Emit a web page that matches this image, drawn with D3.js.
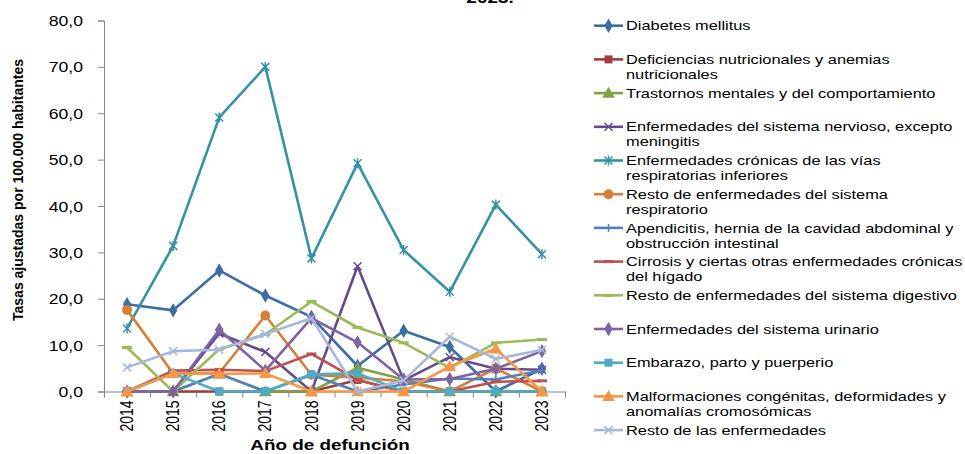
<!DOCTYPE html>
<html>
<head>
<meta charset="utf-8">
<script src="https://cdn.jsdelivr.net/npm/d3@7"></script>
<style>
  body { margin: 0; background: #fff; }
  svg { display: block; font-family: "Liberation Sans", Arial, sans-serif; }
</style>
</head>
<body>
<script>

let width = 965;
let height = 454;

// horizontal stretch of the text in the source picture
let SX = 1.26;

let years = ["2014", "2015", "2016", "2017", "2018", "2019", "2020", "2021", "2022", "2023"];
let yTicks = [0, 10, 20, 30, 40, 50, 60, 70, 80];

let diabetes       = [18.8, 17.5, 26.1, 20.7, 16.1, 5.5, 13.1, 9.6, 0.0, 4.9];
let deficiencias   = [0.0, 0.0, 0.0, 0.0, 0.0, 2.5, 0.0, 0.0, 0.0, 0.0];
let trastornos     = [0.0, 0.0, 3.8, 0.0, 0.0, 5.1, 2.6, 0.0, 0.0, 0.0];
let nervioso       = [0.0, 0.0, 12.5, 8.5, 0.0, 27.0, 2.4, 7.4, 4.9, 4.7];
let cronicas       = [13.6, 31.4, 59.1, 70.0, 28.7, 49.2, 30.5, 21.5, 40.3, 29.6];
let respiratorio   = [17.6, 3.9, 4.0, 16.4, 3.6, 3.0, 2.2, 0.0, 5.0, 0.0];
let apendicitis    = [0.0, 0.0, 3.8, 0.0, 3.6, 0.0, 1.5, 2.8, 2.6, 4.6];
let cirrosis       = [0.0, 4.5, 4.7, 4.4, 8.1, 2.5, 0.0, 0.0, 2.1, 2.3];
let digestivo      = [9.5, 0.0, 9.1, 12.3, 19.4, 13.8, 10.5, 5.1, 10.5, 11.2];
let urinario       = [0.0, 0.0, 13.3, 4.5, 15.8, 10.6, 2.6, 2.7, 4.9, 8.7];
let embarazo       = [0.0, 3.9, 0.0, 0.0, 3.7, 3.9, 0.0, 0.0, 0.0, 0.0];
let malformaciones = [0.0, 3.9, 3.8, 3.9, 0.0, 0.0, 0.0, 5.4, 9.2, 0.0];
let resto          = [5.2, 8.7, 9.0, 12.4, 15.8, 0.0, 2.4, 11.8, 7.0, 9.0];

let seriesNames = [
    ["Diabetes mellitus"],
    ["Deficiencias nutricionales y anemias", "nutricionales"],
    ["Trastornos mentales y del comportamiento"],
    ["Enfermedades del sistema nervioso, excepto", "meningitis"],
    ["Enfermedades crónicas de las vías", "respiratorias inferiores"],
    ["Resto de enfermedades del sistema", "respiratorio"],
    ["Apendicitis, hernia de la cavidad abdominal y", "obstrucción intestinal"],
    ["Cirrosis y ciertas otras enfermedades crónicas", "del hígado"],
    ["Resto de enfermedades del sistema digestivo"],
    ["Enfermedades del sistema urinario"],
    ["Embarazo, parto y puerperio"],
    ["Malformaciones congénitas, deformidades y", "anomalías cromosómicas"],
    ["Resto de las enfermedades"]
];
let seriesValues = [diabetes, deficiencias, trastornos, nervioso, cronicas, respiratorio,
    apendicitis, cirrosis, digestivo, urinario, embarazo, malformaciones, resto];
let seriesColors = ["#3c6da6", "#a13d3a", "#84a047", "#654a8c", "#3591a8", "#d67f38",
    "#4f81bd", "#c0504d", "#9bbb59", "#8064a2", "#4bacc6", "#f79646", "#a6b8dc"];
let seriesMarkers = ["diamond", "square", "triangle", "x", "star", "circle",
    "plus", "dash", "dash", "diamond", "square", "triangle", "x"];

let plot = { left: 104, right: 565, top: 20.5, bottom: 391.5 };

let svg = d3.select("body").append("svg")
    .attr("width", width)
    .attr("height", height);

let x = d3.scaleBand()
    .domain(years)
    .range([plot.left, plot.right]);

let xEdge = d3.scaleLinear()
    .domain([0, years.length])
    .range([plot.left, plot.right]);

let y = d3.scaleLinear()
    .domain([0, 80])
    .range([plot.bottom, plot.top]);

// clipped title line at the very top
svg.append("text")
    .attr("transform", "translate(490,3) scale(" + SX + ",1)")
    .attr("text-anchor", "middle")
    .attr("font-size", 15)
    .attr("font-weight", "bold")
    .text("2023.");

// Y axis
let yAxis = svg.append("g")
    .attr("transform", "translate(" + plot.left + ",0)")
    .call(d3.axisLeft(y)
        .tickValues(yTicks)
        .tickSize(6)
        .tickFormat(d => d3.format(".1f")(d).replace(".", ",")));
yAxis.select(".domain").attr("stroke", "#868686");
yAxis.selectAll(".tick line").attr("stroke", "#868686");
yAxis.selectAll(".tick text")
    .attr("x", null)
    .attr("dy", "0.36em")
    .attr("transform", "translate(-21,0) scale(" + SX + ",1)")
    .attr("font-size", 14)
    .attr("font-family", "Liberation Sans, Arial, sans-serif")
    .attr("fill", "#000");

// X axis: ticks between categories
let xEdgeAxis = svg.append("g")
    .attr("transform", "translate(0," + plot.bottom + ")")
    .call(d3.axisBottom(xEdge)
        .ticks(years.length)
        .tickSize(6)
        .tickSizeOuter(6)
        .tickFormat(""));
xEdgeAxis.select(".domain").attr("stroke", "#868686");
xEdgeAxis.selectAll(".tick line").attr("stroke", "#868686");

let xAxis = svg.append("g")
    .attr("transform", "translate(0," + plot.bottom + ")")
    .call(d3.axisBottom(x).tickSize(0));
xAxis.select(".domain").remove();
xAxis.selectAll(".tick text")
    .attr("y", null)
    .attr("dy", null)
    .attr("text-anchor", "end")
    .attr("dominant-baseline", "central")
    .attr("transform", "translate(0,9) scale(" + SX + ",1) rotate(-90)")
    .attr("font-size", 14)
    .attr("font-family", "Liberation Sans, Arial, sans-serif")
    .attr("fill", "#000");

// axis titles
svg.append("text")
    .attr("transform", "translate(23,190) rotate(-90)")
    .attr("text-anchor", "middle")
    .attr("font-size", 14)
    .attr("font-weight", "bold")
    .text("Tasas ajustadas por 100.000 habitantes");

svg.append("text")
    .attr("transform", "translate(330,450) scale(" + SX + ",1)")
    .attr("text-anchor", "middle")
    .attr("font-size", 15)
    .attr("font-weight", "bold")
    .text("Año de defunción");

function drawMarker(g, type, cx, cy, color) {
    if (type === "diamond") {
        g.append("path").attr("d", d3.symbol(d3.symbolDiamond, 60)())
            .attr("transform", "translate(" + cx + "," + cy + ")").attr("fill", color);
    } else if (type === "square") {
        g.append("path").attr("d", d3.symbol(d3.symbolSquare, 64)())
            .attr("transform", "translate(" + cx + "," + cy + ")").attr("fill", color);
    } else if (type === "triangle") {
        g.append("path").attr("d", d3.symbol(d3.symbolTriangle, 70)())
            .attr("transform", "translate(" + cx + "," + (cy + 1) + ")").attr("fill", color);
    } else if (type === "circle") {
        g.append("circle").attr("cx", cx).attr("cy", cy).attr("r", 5).attr("fill", color);
    } else {
        let r = 4;
        let segs = [];
        if (type === "x" || type === "star") segs.push([-r, -r, r, r], [-r, r, r, -r]);
        if (type === "star") segs.push([0, -r - 1, 0, r + 1]);
        if (type === "plus") segs.push([-r, 0, r, 0], [0, -r, 0, r]);
        if (type === "dash") segs.push([-5, 0, 5, 0]);
        segs.forEach(s => {
            g.append("line")
                .attr("x1", cx + s[0]).attr("y1", cy + s[1])
                .attr("x2", cx + s[2]).attr("y2", cy + s[3])
                .attr("stroke", color)
                .attr("stroke-width", type === "dash" ? 3 : 1.5);
        });
    }
}

// Lines
let line = d3.line()
    .x((d, i) => x(years[i]) + x.bandwidth() / 2)
    .y(d => y(d));

seriesValues.forEach(function (values, k) {
    let g = svg.append("g").attr("class", "series");
    g.append("path")
        .datum(values)
        .attr("fill", "none")
        .attr("stroke", seriesColors[k])
        .attr("stroke-width", 2.6)
        .attr("stroke-linejoin", "round")
        .attr("d", line);
    values.forEach(function (v, i) {
        drawMarker(g, seriesMarkers[k], x(years[i]) + x.bandwidth() / 2, y(v), seriesColors[k]);
    });
});

// Legend
let legend = svg.append("g").attr("class", "legend");
seriesNames.forEach(function (lines, k) {
    let cy = 25.7 + k * 33.7;
    legend.append("line")
        .attr("x1", 594).attr("x2", 623)
        .attr("y1", cy).attr("y2", cy)
        .attr("stroke", seriesColors[k])
        .attr("stroke-width", 2.6);
    drawMarker(legend, seriesMarkers[k], 608.5, cy, seriesColors[k]);
    lines.forEach(function (t, j) {
        legend.append("text")
            .attr("transform", "translate(626," + (cy + 4.6 + j * 15) + ") scale(" + SX + ",1)")
            .attr("font-size", 13)
            .text(t);
    });
});

</script>
</body>
</html>
